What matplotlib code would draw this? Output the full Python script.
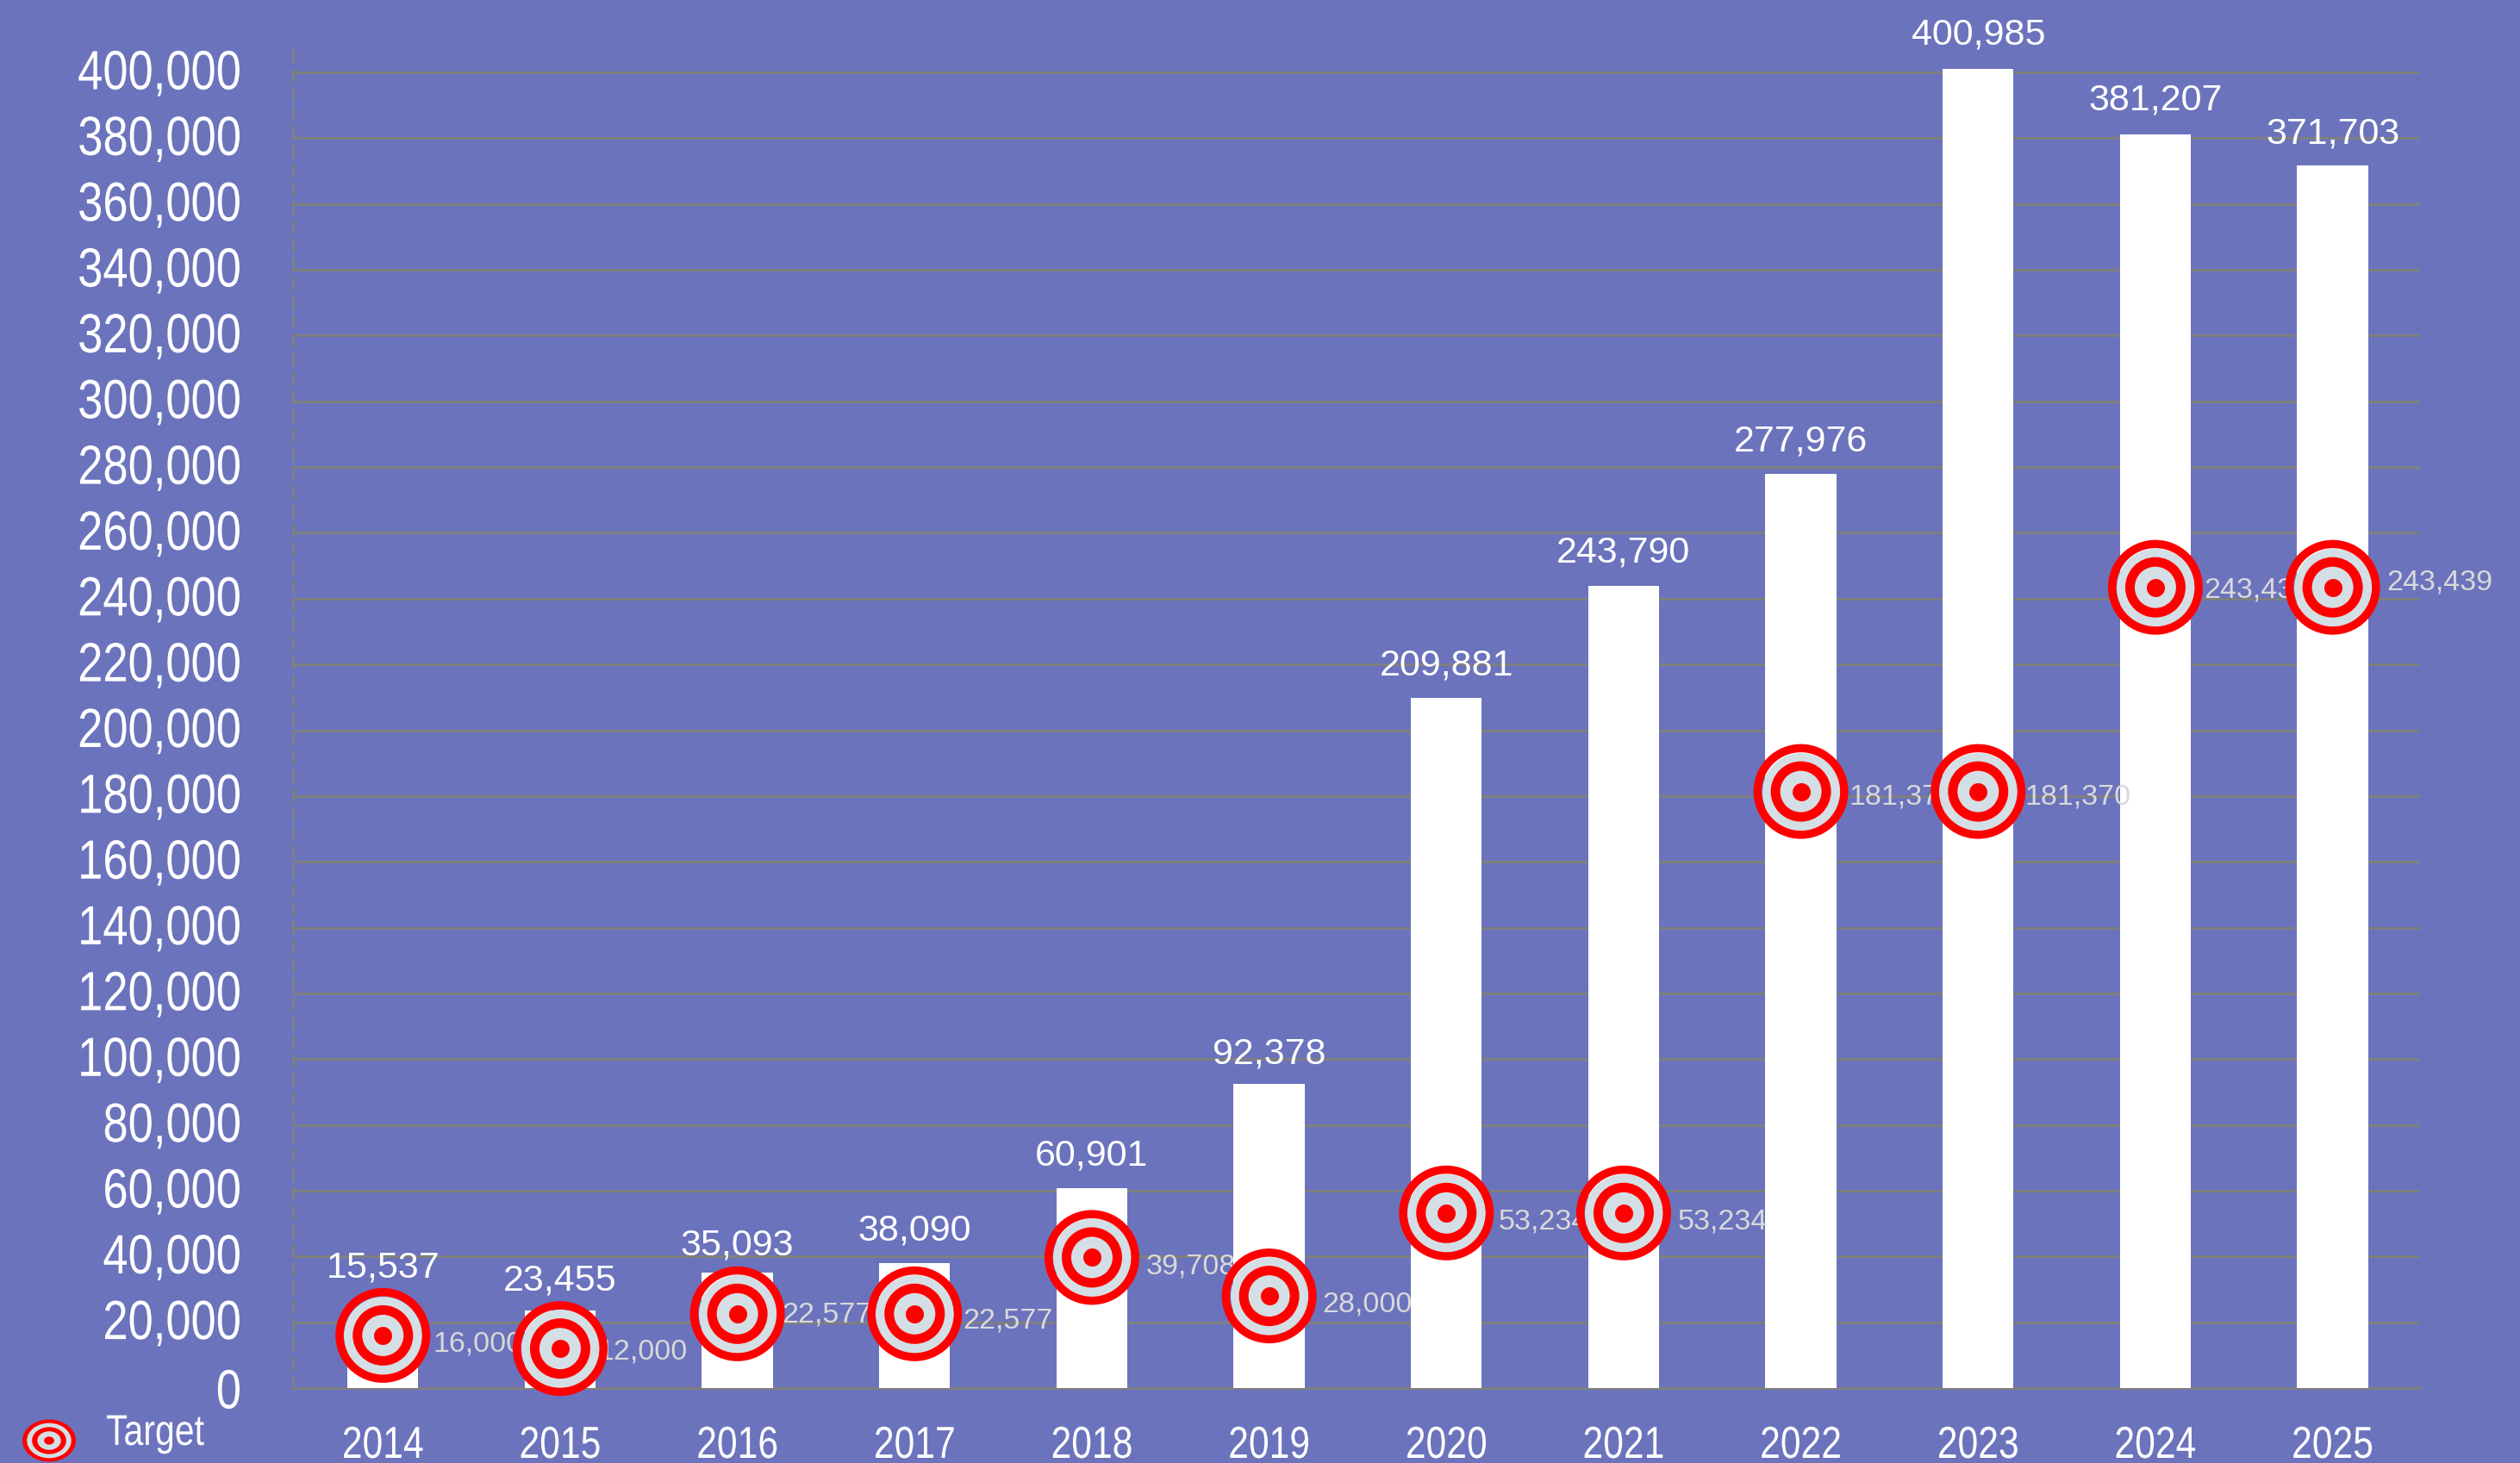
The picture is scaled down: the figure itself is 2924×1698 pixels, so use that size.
#!/usr/bin/env python3
import matplotlib
matplotlib.use('Agg')
import matplotlib.pyplot as plt
from matplotlib.backends.backend_agg import RendererAgg
from matplotlib.patches import Ellipse
from matplotlib.textpath import TextPath
from matplotlib.transforms import Affine2D, ScaledTranslation

years = ['2014', '2015', '2016', '2017', '2018', '2019', '2020', '2021',
         '2022', '2023', '2024', '2025']
actual = [15537, 23455, 35093, 38090, 60901, 92378, 209881, 243790,
          277976, 400985, 381207, 371703]
target = [16000, 12000, 22577, 22577, 39708, 28000, 53234, 53234,
          181370, 181370, 243439, 243439]
y_ticks = list(range(0, 400001, 20000))

# label offsets in pixels
label_dx = [58, 43, 52, 56, 63, 62, 60, 63, 56, 54, 56, 63]
label_dy = [-7, 0, 2, -5, -7, -6, -7, -7, -3, -3, 0, 9]
value_dy = [43, -2, -5, 0, 0, -2, 0, 2, 0, 3, 2, 0]

BG = '#6b73bd'
GRID = '#7f7f7f'
SILVER = '#d3dfe5'
W, H = 2924, 1698
DPI = 100
PX = 72 / DPI
NARROW = 0.82

plt.rcParams['font.family'] = ['Liberation Sans', 'DejaVu Sans']

# no narrow Arial installed: text marked stretch='condensed' gets squeezed
# when it is measured and drawn
agg_metrics = RendererAgg.get_text_width_height_descent
agg_draw_text = RendererAgg.draw_text


def narrow_metrics(self, s, prop, ismath):
    w, h, d = agg_metrics(self, s, prop, ismath)
    if prop.get_stretch() == 'condensed':
        w *= NARROW
    return w, h, d


def narrow_draw_text(self, gc, x, y, s, prop, angle, ismath=False, mtext=None):
    if prop.get_stretch() != 'condensed':
        return agg_draw_text(self, gc, x, y, s, prop, angle, ismath, mtext)
    size = prop.get_size_in_points() * self.dpi / 72
    path = TextPath((0, 0), s, size=size, prop=prop)
    gc.set_linewidth(0)
    tr = Affine2D().scale(NARROW, 1).translate(x, self.height - y)
    self.draw_path(gc, path, tr, gc.get_rgb())


RendererAgg.get_text_width_height_descent = narrow_metrics
RendererAgg.draw_text = narrow_draw_text


def draw_target(ax, x, y):
    # silver discs sit under the labels, the red rings on top of them
    ax.scatter([x], [y], s=(91 * PX) ** 2, color=SILVER, linewidths=0, zorder=4, clip_on=False)
    for d, lw in [(100.5, 9.5), (59, 11)]:
        ax.scatter([x], [y], s=(d * PX) ** 2, facecolors='none', edgecolors='red',
                   linewidths=lw * PX, zorder=6, clip_on=False)
    ax.scatter([x], [y], s=(21 * PX) ** 2, color='red', linewidths=0, zorder=6, clip_on=False)


def main():
    fig = plt.figure(figsize=(W / DPI, H / DPI), dpi=DPI, facecolor=BG)
    ax = fig.add_axes([340 / W, 1 - 1611 / H, (2808 - 340) / W, (1611 - 50) / H])
    ax.set_facecolor(BG)
    xs = range(len(years))
    # categories sit 1.5 px right of the middle of their slots
    ax.set_xlim(-0.507, len(years) - 0.507)
    # y axis line runs a bit above the 400,000 gridline
    ax.set_ylim(0, 400000 * (1611 - 50) / (1611 - 84))

    ax.bar(xs, actual, width=0.4, color='white', zorder=3)
    ax.set_yticks(y_ticks)
    ax.set_yticklabels([f'{v:,}' for v in y_ticks], fontsize=64 * PX, color='white',
                       fontstretch='condensed', va='center_baseline')
    ax.set_xticks(list(xs))
    ax.set_xticklabels(years, fontsize=52 * PX, color='white', fontstretch='condensed')
    ax.tick_params(axis='y', length=0, pad=60 * PX)
    ax.tick_params(axis='x', length=0, pad=43 * PX)
    # tick_params resets the label transforms, so lift after it
    lift = ScaledTranslation(0, 4 / DPI, fig.dpi_scale_trans)
    for lab, v in zip(ax.get_yticklabels(), y_ticks):
        if v > 0:
            lab.set_transform(lab.get_transform() + lift)
    ax.grid(axis='y', color=GRID, linewidth=3 * PX, zorder=1)
    ax.set_axisbelow(True)
    for side in ['top', 'right']:
        ax.spines[side].set_visible(False)
    ax.spines['left'].set_color(GRID)
    ax.spines['left'].set_linewidth(3 * PX)
    ax.spines['left'].set_linestyle((0, (4.33, 3)))
    ax.spines['bottom'].set_color(GRID)
    ax.spines['bottom'].set_linewidth(3 * PX)

    for i, (a, t) in enumerate(zip(actual, target)):
        ax.annotate(f'{a:,}', (i, a), xytext=(0, (17 + value_dy[i]) * PX),
                    textcoords='offset points', ha='center', va='bottom',
                    fontsize=43 * PX, color='white', zorder=8, annotation_clip=False)
        draw_target(ax, i, t)
        ax.annotate(f'{t:,}', (i, t), xytext=(label_dx[i] * PX, label_dy[i] * PX),
                    textcoords='offset points', ha='left', va='center_baseline',
                    fontsize=34 * PX, color='#d9d9d9', zorder=5, annotation_clip=False)

    # legend in the bottom left corner, its marker is stretched in the original
    leg = fig.add_axes([0, 0, 1, 1], facecolor='none')
    leg.set_axis_off()
    leg.set_xlim(0, W)
    leg.set_ylim(H, 0)
    for f, c in [(1, 'red'), (0.83, SILVER), (0.64, 'red'), (0.44, SILVER), (0.19, 'red')]:
        leg.add_patch(Ellipse((57, 1672), 62 * f, 49 * f, color=c, linewidth=0))
    leg.text(123, 1677, 'Target', fontsize=50 * PX, color='white', fontstretch='condensed',
             ha='left', va='baseline')

    fig.savefig('out.png', dpi=DPI, facecolor=BG)


if __name__ == '__main__':
    main()
